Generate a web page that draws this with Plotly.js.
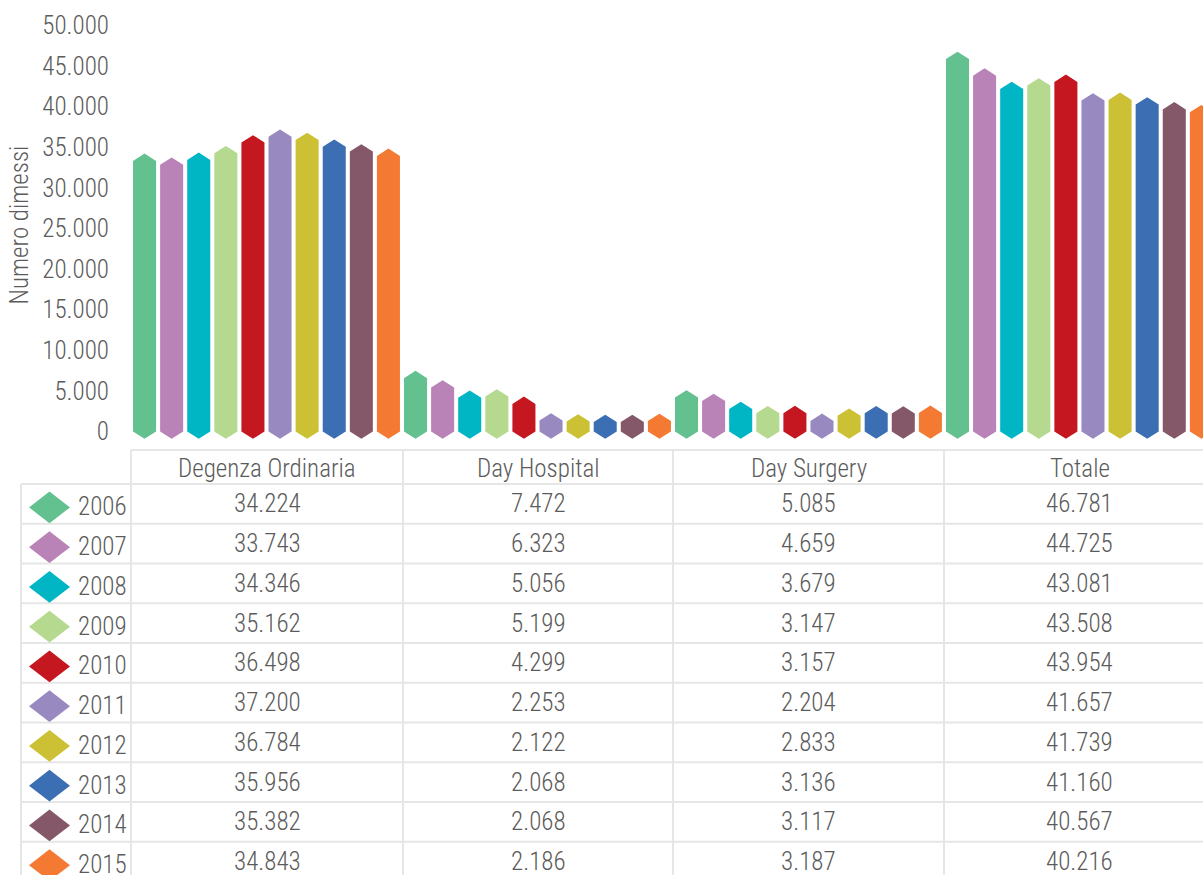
<!DOCTYPE html>
<html>
<head>
<meta charset="utf-8">
<script src="https://cdn.plot.ly/plotly-3.0.1.min.js"></script>
<style>
  html, body { margin: 0; padding: 0; background: #ffffff; }
  #chart { width: 1203px; height: 875px; }
</style>
</head>
<body>
<div id="chart"></div>
<script>
// ---- Data ----
const categories = ['Degenza Ordinaria', 'Day Hospital', 'Day Surgery', 'Totale'];
const years = ['2006', '2007', '2008', '2009', '2010', '2011', '2012', '2013', '2014', '2015'];
const degenzaOrdinaria = [34224, 33743, 34346, 35162, 36498, 37200, 36784, 35956, 35382, 34843];
const dayHospital      = [7472, 6323, 5056, 5199, 4299, 2253, 2122, 2068, 2068, 2186];
const daySurgery       = [5085, 4659, 3679, 3147, 3157, 2204, 2833, 3136, 3117, 3187];
const totale           = [46781, 44725, 43081, 43508, 43954, 41657, 41739, 41160, 40567, 40216];
const yTickValues = [0, 5000, 10000, 15000, 20000, 25000, 30000, 35000, 40000, 45000, 50000];

// ---- Styles ----
const yearColors = ['#62c18f', '#b983b8', '#00b6c4', '#b5d98e', '#c4171f',
                    '#9889c0', '#ccc034', '#3c6eb4', '#845868', '#f47a33'];
const FONT = '"Roboto Condensed", "Liberation Sans Narrow", "DejaVu Sans Condensed", sans-serif';
const TEXT_COLOR = '#5b5b5b';
const FONT_SIZE = 25;
const FONT_WEIGHT = 300;
const GRID_COLOR = '#e6e6e6';

const W = 1203, H = 875;
const PLOT_LEFT = 131, PLOT_BOTTOM = 450;

const series = [degenzaOrdinaria, dayHospital, daySurgery, totale];
const SLOT = 0.1, HALF = 0.0425, CAP = 900;

const fmt = v => String(v).replace(/\B(?=(\d{3})+(?!\d))/g, '.');
const font = () => ({ family: FONT, size: FONT_SIZE, color: TEXT_COLOR, weight: FONT_WEIGHT });

// hexagonal bars: one trace per year
const traces = years.map((yr, i) => {
  const xs = [], ys = [];
  series.forEach((vals, c) => {
    const xc = c - 0.5 + (i + 0.5) * SLOT;
    const v = vals[i];
    xs.push(xc - HALF, xc - HALF, xc, xc + HALF, xc + HALF, xc, null);
    ys.push(0, v - CAP, v, v - CAP, 0, -CAP, null);
  });
  return {
    type: 'scatter', mode: 'lines', x: xs, y: ys, name: yr,
    fill: 'toself', fillcolor: yearColors[i],
    line: { width: 0, color: yearColors[i] },
    hoverinfo: 'skip', showlegend: false
  };
});

// ---- Table below the plot (paper coords from pixels) ----
const PW = W - PLOT_LEFT;
const px2x = x => (x - PLOT_LEFT) / PW;
const px2y = y => (H - y) / H;

const colEdges = [131, 403, 673, 944, 1215];
const headerTop = 450, headerBottom = 484, rowH = 39.75;
const tableLeft = 21;

const shapes = [];
const line = (x0, y0, x1, y1) => shapes.push({
  type: 'line', xref: 'paper', yref: 'paper',
  x0: px2x(x0), y0: px2y(y0), x1: px2x(x1), y1: px2y(y1),
  line: { color: GRID_COLOR, width: 2 }, layer: 'above'
});
colEdges.forEach(x => line(x, headerTop, x, H + 20));
line(tableLeft, headerBottom, tableLeft, H + 20);
line(PLOT_LEFT, headerTop, colEdges[4], headerTop);
for (let k = 0; k <= years.length; k++) {
  const y = headerBottom + k * rowH;
  line(tableLeft, y, colEdges[4], y);
}

const annotations = [];
const colCenters = colEdges.slice(0, 4).map((x, c) => (x + colEdges[c + 1]) / 2);
categories.forEach((cat, c) => annotations.push({
  xref: 'paper', yref: 'paper', x: px2x(colCenters[c]), y: px2y(468),
  text: cat, showarrow: false, xanchor: 'center', yanchor: 'middle', font: font()
}));
years.forEach((yr, i) => {
  const yc = headerBottom + (i + 0.5) * rowH;
  // legend diamond
  shapes.push({
    type: 'path', xref: 'paper', yref: 'paper',
    xsizemode: 'pixel', ysizemode: 'pixel',
    xanchor: px2x(49.5), yanchor: px2y(yc + 3.5),
    path: 'M-20.5,0 L0,-15.8 L20.5,0 L0,15.8 Z',
    fillcolor: yearColors[i], line: { width: 0 }, layer: 'above'
  });
  annotations.push({
    xref: 'paper', yref: 'paper', x: px2x(76), y: px2y(yc + 3),
    text: yr, showarrow: false, xanchor: 'left', yanchor: 'middle', font: font()
  });
  series.forEach((vals, c) => annotations.push({
    xref: 'paper', yref: 'paper', x: px2x(colCenters[c]), y: px2y(yc),
    text: fmt(vals[i]), showarrow: false, xanchor: 'center', yanchor: 'middle', font: font()
  }));
});

const layout = {
  width: W, height: H,
  margin: { l: PLOT_LEFT, r: 0, t: 0, b: 0, pad: 0 },
  paper_bgcolor: '#ffffff', plot_bgcolor: '#ffffff',
  separators: ',.',
  showlegend: false,
  font: font(),
  xaxis: {
    range: [-0.5, 3.456], domain: [0, 1],
    showticklabels: false, showgrid: false, zeroline: false, showline: false, ticks: ''
  },
  yaxis: {
    domain: [(H - PLOT_BOTTOM) / H, 1],
    range: [-2278, 53140],
    tickvals: yTickValues, tickformat: ',d',
    showgrid: false, zeroline: false, showline: false, ticks: '',
    ticklabelstandoff: 21,
    tickfont: font(),
    title: { text: 'Numero dimessi', standoff: 6, font: font() },
    automargin: false
  },
  shapes: shapes,
  annotations: annotations
};

Plotly.newPlot('chart', traces, layout, { displayModeBar: false, staticPlot: true });
</script>
</body>
</html>
